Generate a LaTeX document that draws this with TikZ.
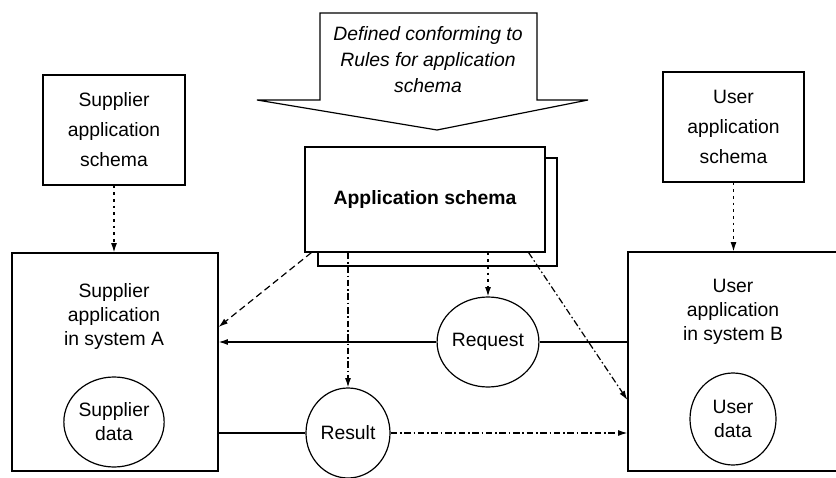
\documentclass[tikz,border=0pt]{standalone}
\usepackage{fontspec}
\setmainfont{Liberation Sans}
\usetikzlibrary{arrows.meta,shapes.geometric}
\newdimen\upx
\upx=0.75pt
\begin{document}
\begin{tikzpicture}[x=0.75pt,y=-0.75pt,
  every node/.style={font=\fontsize{14.5}{18}\selectfont, align=center, inner sep=0pt},
  box/.style={draw, line width=0.9pt, fill=white},
  blob/.style={draw, ellipse, line width=0.9pt, fill=white},
  flow/.style={line width=0.9pt},
  tip/.style={-{Latex[length=7pt,width=4.5pt]}},
  dotline/.style={flow, dash pattern=on 2pt off 3pt},
  dashline/.style={flow, dash pattern=on 5pt off 3pt},
  dashdotline/.style={flow, dash pattern=on 5pt off 2pt on 1.2pt off 2pt}]
\useasboundingbox (0,0) rectangle (836,478);
\clip (0,0) rectangle (836,478);

% wide arrow carrying the rules
\draw[line width=0.9pt] (320,13) -- (537,13) -- (537,100) -- (588,100) -- (437,130)
  -- (257,100) -- (320,100) -- cycle;
\node[font=\itshape\fontsize{14.5}{19.5}\selectfont] (rules) at (428,60)
  {Defined conforming to\\Rules for application\\schema};

% schema boxes
\node[box, minimum width=142\upx, minimum height=110\upx,
  font=\fontsize{14.5}{22.5}\selectfont] (supschema) at (114,130)
  {Supplier\\application\\schema};
\node[box, minimum width=141\upx, minimum height=110\upx,
  font=\fontsize{14.5}{22.5}\selectfont] (usrschema) at (733.5,127)
  {User\\application\\schema};

% application schema with its stacked copy
\draw[line width=0.9pt, fill=white] (318,158) rectangle (557,266);
\node[box, minimum width=240\upx, minimum height=105\upx, font=\bfseries\fontsize{14.5}{18}\selectfont]
  (appschema) at (425,199.5) {Application schema};

% the two systems
\node[box, minimum width=206\upx, minimum height=218\upx] (sysA) at (115,362) {};
\node (sysAtext) at (114,316) {Supplier\\application\\in system A};
\node[box, minimum width=212\upx, minimum height=219\upx] (sysB) at (734,361.5) {};
\node (sysBtext) at (733,312) {User\\application\\in system B};

% data stores and messages
\node[blob, minimum width=82\upx, minimum height=90\upx] (supdata) at (114,422) {Supplier\\data};
\node[blob, minimum width=86\upx, minimum height=92\upx] (usrdata) at (733,419) {User\\data};
\node[blob, minimum width=84\upx, minimum height=90\upx] (request) at (488,342) {Request};
\node[blob, minimum width=84\upx, minimum height=90\upx] (result) at (348,433) {Result};

% schema dependencies
\draw[dotline, tip] (supschema.south) -- (supschema.south |- sysA.north);
\draw[dotline, tip] (usrschema.south) -- (usrschema.south |- sysB.north);
\draw[dotline, tip] (request.north |- appschema.south) -- (request.north);
\draw[dashdotline, tip] (result.north |- appschema.south) -- (result.north);
\draw[dashline, tip] ([xshift=7\upx]appschema.south west) -- ([yshift=35\upx]sysA.east);
\draw[dashdotline, tip] ([xshift=-17\upx]appschema.south east) -- ([yshift=-38.5\upx]sysB.west);

% message exchange
\draw[flow] (sysB.west |- request.east) -- (request.east);
\draw[flow, tip] (request.west) -- (sysA.east |- request.west);
\draw[flow] (sysA.east |- result.west) -- (result.west);
\draw[dashdotline, tip] (result.east) -- (sysB.west |- result.east);
\end{tikzpicture}
\end{document}
